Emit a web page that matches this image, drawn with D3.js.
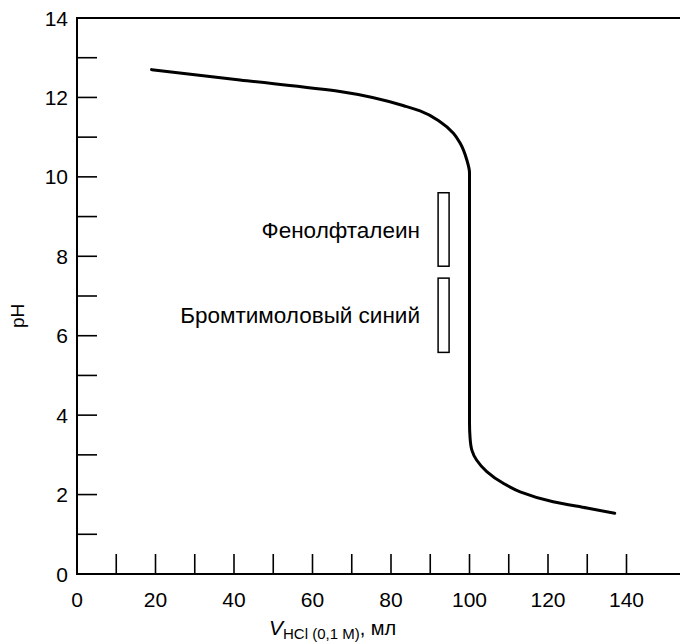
<!DOCTYPE html>
<html lang="ru">
<head>
<meta charset="UTF-8">
<title>Кривая титрования</title>
<script src="https://d3js.org/d3.v7.min.js"></script>
<style>
  body { margin: 0; background: #fff; }
  svg { display: block; font-family: "Liberation Sans", Arial, sans-serif; }
</style>
</head>
<body>
<svg id="chart" width="680" height="644"></svg>
<script>
// titration curve
const volume = [19, 41.5, 67, 84, 87.4, 92.5, 95.9, 97.6, 99.3, 100, 100, 100.15, 100.6, 101.8, 104.4, 108.5, 112.9, 121.3, 129.9, 137];
const pH     = [12.7, 12.44, 12.15, 11.77, 11.66, 11.39, 11.1, 10.85, 10.43, 10.1, 3.8, 3.42, 3.12, 2.87, 2.58, 2.29, 2.07, 1.82, 1.66, 1.53];

// indicator ranges
const indicators = ["Фенолфталеин", "Бромтимоловый синий"];
const indLow  = [7.75, 5.58];
const indHigh = [9.6, 7.45];
const indX = [92, 94.8];

const xTickVals = [10, 20, 30, 40, 50, 60, 70, 80, 90, 100, 110, 120, 130, 140];
const xLabelVals = [0, 20, 40, 60, 80, 100, 120, 140];
const yTickVals = d3.range(1, 14);
const yLabelVals = [0, 2, 4, 6, 8, 10, 12, 14];

const margin = {top: 18, left: 77};
const plotH = 556;
const svg = d3.select("#chart");

const x = d3.scaleLinear().domain([0, 154]).range([margin.left, margin.left + 154 * 3.925]);
const y = d3.scaleLinear().domain([0, 14]).range([margin.top + plotH, margin.top]);

const tickLen = 20;
const g = svg.append("g").attr("stroke", "#000");

// frame
g.append("rect")
  .attr("x", x(0)).attr("y", y(14))
  .attr("width", x(154) - x(0)).attr("height", y(0) - y(14))
  .attr("fill", "none").attr("stroke-width", 2);

// inward ticks
g.selectAll(".xt").data(xTickVals).join("line")
  .attr("x1", d => x(d)).attr("x2", d => x(d))
  .attr("y1", y(0)).attr("y2", y(0) - tickLen)
  .attr("stroke-width", 1.6);
g.selectAll(".yt").data(yTickVals).join("line")
  .attr("y1", d => y(d)).attr("y2", d => y(d))
  .attr("x1", x(0)).attr("x2", x(0) + tickLen)
  .attr("stroke-width", 1.6);

// tick labels
svg.selectAll(".xl").data(xLabelVals).join("text")
  .attr("x", d => x(d)).attr("y", y(0) + 33)
  .attr("text-anchor", "middle").attr("font-size", 21)
  .text(d => d);
svg.selectAll(".yl").data(yLabelVals).join("text")
  .attr("x", x(0) - 9).attr("y", d => y(d))
  .attr("dy", "0.36em")
  .attr("text-anchor", "end").attr("font-size", 21)
  .text(d => d);

// axis titles
svg.append("text")
  .attr("transform", `translate(24,${y(6.5)}) rotate(-90)`)
  .attr("text-anchor", "middle").attr("font-size", 19)
  .text("pH");

const xt = svg.append("text").attr("x", 269).attr("y", 635).attr("font-size", 21);
xt.append("tspan").attr("font-style", "italic").text("V");
xt.append("tspan").attr("font-size", 15).attr("dy", 4).text("HCl (0,1 M)");
xt.append("tspan").attr("font-size", 20).attr("dy", -4).text(", мл");

// indicator boxes
const idx = d3.range(indicators.length);
g.selectAll(".ind").data(idx).join("rect")
  .attr("x", x(indX[0])).attr("width", x(indX[1]) - x(indX[0]))
  .attr("y", i => y(indHigh[i])).attr("height", i => y(indLow[i]) - y(indHigh[i]))
  .attr("fill", "none").attr("stroke-width", 1.5);
svg.selectAll(".indl").data(idx).join("text")
  .attr("x", 420).attr("y", i => y((indLow[i] + indHigh[i]) / 2))
  .attr("dy", "0.36em").attr("text-anchor", "end").attr("font-size", 22.5)
  .text(i => indicators[i]);

// curve
const pts = volume.map((v, i) => [v, pH[i]]);
svg.append("path")
  .datum(pts)
  .attr("fill", "none").attr("stroke", "#000").attr("stroke-width", 3)
  .attr("stroke-linecap", "round")
  .attr("d", d3.line().x(d => x(d[0])).y(d => y(d[1])).curve(d3.curveMonotoneY));
</script>
</body>
</html>
